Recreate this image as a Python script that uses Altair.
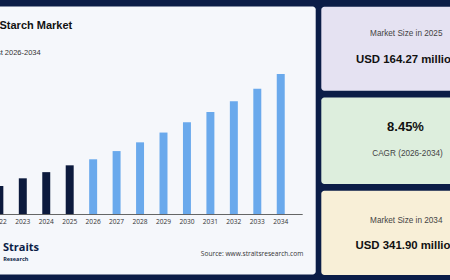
import altair as alt
import pandas as pd

# ---- data ----
years = ["2022", "2023", "2024", "2025", "2026", "2027", "2028",
         "2029", "2030", "2031", "2032", "2033", "2034"]
values = [124, 139, 151, 164.27, 176, 192, 209, 228, 248, 268, 289, 313, 341.9]
phase = ["Historical"] * 4 + ["Forecast"] * 9

card_labels = ["Market Size in 2025", "CAGR (2026-2034)", "Market Size in 2034"]
card_values = ["USD 164.27 million", "8.45%", "USD 341.90 million"]

df = pd.DataFrame({"year": years, "value": values, "phase": phase})
one = pd.DataFrame({"a": [0]})

NAVY = "#0b1d47"
FONT = "Liberation Sans"
OPEN = "Open Sans"

# ---- scales (pixel ranges of the plot area inside the 450x280 canvas) ----
step = 23.45
c0 = -0.65
xscale = alt.Scale(type="band", range=[c0 - step / 2, c0 + 12 * step + step / 2],
                   paddingInner=0.66, paddingOuter=0.33)
ymin = 69
yscale = alt.Scale(domain=[ymin, 360], range=[214.3, 64.7], zero=False, nice=False)


def rect(x1, x2, y1, y2, color, r=3):
    return alt.Chart(one).mark_rect(color=color, cornerRadius=r).encode(
        x=alt.value(x1), x2=alt.value(x2), y=alt.value(y1), y2=alt.value(y2))


def text(s, x, y, size, color="#222", weight="normal", align="center", font=FONT,
         baseline="middle"):
    return alt.Chart(one).mark_text(
        text=s, fontSize=size, color=color, fontWeight=weight, align=align,
        baseline=baseline, font=font).encode(x=alt.value(x), y=alt.value(y))


panel = rect(-5, 315.7, 6.5, 274.5, "#f5f7fb")
card1 = rect(321.3, 470, 6.7, 90.7, "#e5e2f2")
card2 = rect(321.3, 470, 97.5, 184, "#ddeedd")
card3 = rect(321.3, 470, 190.7, 275, "#f8efd7")

bars = alt.Chart(df).mark_bar().encode(
    x=alt.X("year:O", scale=xscale, axis=None),
    y=alt.Y("value:Q", scale=yscale, axis=None),
    y2=alt.datum(ymin),
    color=alt.Color("phase:N", scale=alt.Scale(domain=["Historical", "Forecast"],
                                               range=["#0c1a3d", "#6aa9ec"]),
                    legend=None),
)

labels = alt.Chart(df).mark_text(fontSize=6.6, font=OPEN, color="#333",
                                 baseline="middle").encode(
    x=alt.X("year:O", scale=xscale, axis=None),
    y=alt.value(222.3),
    text="year:N",
)

baseline = alt.Chart(one).mark_rule(color="#555", strokeWidth=0.9).encode(
    x=alt.value(0), x2=alt.value(302.7), y=alt.value(214.5))

layers = [
    panel, card1, card2, card3,
    bars, baseline, labels,
    text("Starch Market", -0.5, 25.5, 11, "#111", "bold", "left"),
    text("Forecast 2026-2034", 40.7, 52.8, 7.5, "#333", "normal", "right"),
    text("Straits", 3, 248.3, 11, NAVY, "bold", "left", OPEN),
    text("Research", 3.2, 259, 5.5, NAVY, "bold", "left", OPEN),
    text("Source: www.straitsresearch.com", 303.3, 254.3, 6.6, "#333", "normal",
         "right", OPEN),
    text(card_labels[0], 406.3, 34.3, 8.2, "#444"),
    text(card_values[0], 356, 59.5, 11.4, "#111", "bold", "left"),
    text(card_values[1], 405.5, 127.3, 13, "#111", "bold"),
    text(card_labels[1], 407.5, 154, 8.2, "#444"),
    text(card_labels[2], 406.3, 221.3, 8.2, "#444"),
    text(card_values[2], 355.5, 246.2, 11.4, "#111", "bold", "left"),
]

chart = alt.layer(*layers).properties(
    width=450, height=280,
    autosize=alt.AutoSizeParams(type="none"),
    padding=0,
    background=NAVY,
).configure_view(stroke=None)

chart.save("out.html", embed_options={"renderer": "svg", "actions": False})
